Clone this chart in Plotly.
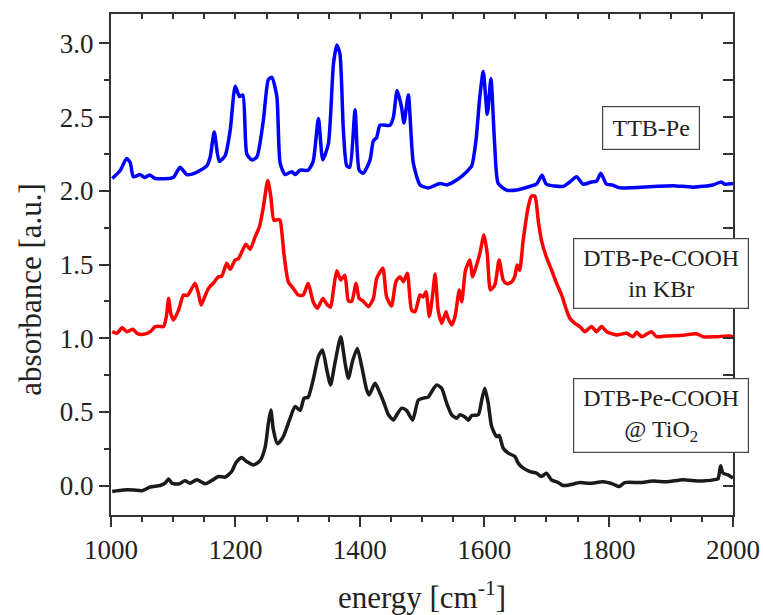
import plotly.graph_objects as go

# ---- data ----
ttb_x = [1002, 1015, 1025, 1031, 1036, 1047, 1054, 1062, 1071, 1100, 1111, 1122, 1135, 1154, 1159.5, 1166, 1174,
         1183.6, 1191.6, 1199.7, 1206.6, 1212, 1218.4, 1226.5, 1234.5, 1245, 1253, 1258.6, 1266.6, 1272, 1280,
         1290.7, 1296, 1304, 1317, 1325, 1333.5, 1340.5, 1349.5, 1357.6, 1363, 1368, 1373.6, 1379, 1384, 1392.4,
         1399, 1405.7, 1416.5, 1421.8, 1427, 1432.5, 1448.6, 1454, 1460, 1467, 1471, 1478, 1486, 1497, 1510,
         1529, 1540, 1558, 1572, 1580, 1586.7, 1593, 1598.5, 1605, 1610.8, 1617, 1622.5, 1636, 1652, 1673.5,
         1684, 1693, 1700, 1727, 1737.7, 1748.5, 1759, 1772.5, 1780.6, 1787.5, 1796.6, 1806, 1818, 1871.5,
         1903.6, 1935.7, 1967.8, 1981, 1986.7, 2000]
ttb_y = [2.084, 2.14, 2.22, 2.19, 2.095, 2.11, 2.09, 2.107, 2.084, 2.09, 2.16, 2.11, 2.12, 2.17, 2.23, 2.40, 2.20,
         2.24, 2.41, 2.71, 2.64, 2.65, 2.25, 2.21, 2.23, 2.48, 2.755, 2.77, 2.64, 2.186, 2.11,
         2.13, 2.11, 2.14, 2.14, 2.20, 2.49, 2.21, 2.32, 2.86, 2.99, 2.93, 2.41, 2.17, 2.16, 2.55,
         2.14, 2.12, 2.21, 2.34, 2.36, 2.445, 2.445, 2.50, 2.68, 2.57, 2.46, 2.65, 2.19, 2.04, 2.02,
         2.05, 2.04, 2.08, 2.13, 2.17, 2.34, 2.64, 2.81, 2.52, 2.76, 2.30, 2.05, 2.005, 2.005, 2.03,
         2.045, 2.105, 2.045, 2.03, 2.06, 2.095, 2.045, 2.06, 2.065, 2.12, 2.045, 2.04, 2.02, 2.03,
         2.035, 2.025, 2.04, 2.06, 2.045, 2.05]

kbr_x = [1002, 1009.6, 1017.7, 1025.7, 1035, 1041.8, 1052, 1063, 1071, 1079, 1084.5, 1089, 1092.6, 1096, 1100.5,
         1108.6, 1116.6, 1123, 1128.5, 1135.4, 1140.7, 1145, 1151.5, 1156.8, 1164.8, 1172.8, 1178, 1186, 1191.6,
         1199.6, 1205, 1210.4, 1217, 1223.7, 1231.7, 1238.7, 1245, 1252, 1257, 1262, 1269, 1271.8, 1278, 1285,
         1293, 1301, 1309, 1317, 1325, 1332, 1340.5, 1347, 1353, 1357.6, 1363, 1369.4, 1376, 1381.6, 1387, 1394,
         1399, 1405.7, 1413.8, 1421.8, 1427.2, 1437, 1443, 1451, 1458, 1464.7, 1470, 1476.4, 1483.4, 1489,
         1496.8, 1502, 1506.4, 1511.8, 1517, 1521, 1526, 1531.7, 1538.5, 1541, 1547.7, 1553, 1560, 1563.8, 1570,
         1577, 1581.4, 1588, 1593, 1599.6, 1605, 1610, 1617, 1624, 1630.6, 1636, 1644, 1649, 1653, 1657, 1662.7,
         1670.7, 1676, 1681.5, 1686.8, 1692, 1700, 1708.4, 1716.4, 1724.4, 1732.4, 1737.7, 1745.8, 1753.8, 1762,
         1772.5, 1780.6, 1788.6, 1797, 1812.7, 1828.8, 1839.5, 1845, 1853, 1869, 1877, 1893, 1919.7, 1941, 1952,
         1973, 1994.6, 2000]
kbr_y = [1.044, 1.033, 1.07, 1.044, 1.06, 1.033, 1.026, 1.044, 1.078, 1.08, 1.078, 1.146, 1.27, 1.17, 1.123,
         1.19, 1.293, 1.29, 1.327, 1.372, 1.30, 1.225, 1.29, 1.338, 1.376, 1.417, 1.42, 1.508, 1.467,
         1.53, 1.54, 1.587, 1.638, 1.603, 1.688, 1.756, 1.89, 2.07, 1.96, 1.80, 1.806, 1.80, 1.575, 1.383,
         1.338, 1.293, 1.293, 1.372, 1.247, 1.203, 1.27, 1.23, 1.21, 1.327, 1.458, 1.395, 1.428, 1.254, 1.25, 1.372,
         1.27, 1.25, 1.214, 1.27, 1.406, 1.474, 1.281, 1.218, 1.383, 1.417, 1.383, 1.44, 1.19, 1.18,
         1.293, 1.28, 1.315, 1.146, 1.29, 1.435, 1.19, 1.10, 1.18, 1.146, 1.09, 1.146, 1.327, 1.247, 1.462,
         1.53, 1.417, 1.50, 1.575, 1.70, 1.57, 1.327, 1.36, 1.53, 1.395, 1.37, 1.38, 1.417, 1.496, 1.46, 1.666,
         1.89, 1.964, 1.964, 1.80, 1.666, 1.55, 1.462, 1.372, 1.293, 1.19, 1.135, 1.10, 1.078, 1.044,
         1.08, 1.044, 1.08, 1.044, 1.022, 1.033, 1.01, 1.04, 1.01, 1.044, 1.01, 1.015, 1.02, 1.03, 1.01,
         1.01, 1.015, 1.01]

tio2_x = [1002, 1020, 1036, 1050, 1063, 1079, 1087, 1092.5, 1098, 1108.6, 1119, 1127, 1138, 1151.5, 1162, 1172.8,
          1183.6, 1194, 1201, 1210, 1218, 1229, 1240, 1248, 1253, 1257, 1261, 1267.6, 1277, 1287, 1296, 1304,
          1310.5, 1317, 1325, 1333.5, 1340, 1347, 1353, 1360, 1369.4, 1376, 1381.6, 1388.7, 1396, 1403, 1411,
          1415, 1424.5, 1432.5, 1439, 1446, 1454, 1459.4, 1467.4, 1475, 1485, 1494, 1502, 1510, 1515.6, 1523.6,
          1531.6, 1539.7, 1547.7, 1555.7, 1561, 1569, 1574.4, 1580, 1590.4, 1596, 1601, 1606.5, 1612, 1620, 1624,
          1630.6, 1638.6, 1649.4, 1654.7, 1662.7, 1673.5, 1684, 1692, 1700, 1708, 1719, 1727, 1737.7, 1753.8,
          1770, 1791, 1807, 1817, 1826, 1850, 1871.5, 1893, 1920, 1946.5, 1970.6, 1976, 1980, 1984, 1992, 2000]
tio2_y = [-0.04, -0.03, -0.03, -0.035, -0.01, 0.0, 0.016, 0.045, 0.016, 0.01, 0.032, 0.016, 0.039, 0.012, 0.034,
          0.061, 0.057, 0.095, 0.156, 0.19, 0.163, 0.14, 0.17, 0.264, 0.423, 0.513, 0.38, 0.283, 0.332, 0.445,
          0.536, 0.51, 0.593, 0.60, 0.717, 0.875, 0.92, 0.784, 0.683, 0.83, 1.01, 0.84, 0.728, 0.85, 0.93, 0.81,
          0.65, 0.615, 0.694, 0.626, 0.559, 0.48, 0.445, 0.48, 0.525, 0.51, 0.445, 0.58, 0.593, 0.60, 0.637,
          0.683, 0.66, 0.559, 0.48, 0.457, 0.48, 0.465, 0.443, 0.475, 0.48, 0.58, 0.66, 0.559, 0.40, 0.332, 0.34,
          0.253, 0.22, 0.197, 0.152, 0.118, 0.095, 0.084, 0.061, 0.084, 0.039, 0.02, 0.0, 0.005, 0.02,
          0.015, 0.025, 0.01, -0.007, 0.02, 0.02, 0.03, 0.025, 0.04, 0.03, 0.04, 0.045, 0.135, 0.084, 0.072, 0.05]

x_range = [1000, 2000]
y_range = [-0.2, 3.2]
x_ticks = [1000, 1200, 1400, 1600, 1800, 2000]
y_ticks = [0.0, 0.5, 1.0, 1.5, 2.0, 2.5, 3.0]
y_ticktext = ["0.0", "0.5", "1.0", "1.5", "2.0", "2.5", "3.0"]

FONT = "Liberation Serif, Tinos, DejaVu Serif Condensed, DejaVu Serif, serif"
TXT = "#222222"
AX = "#333333"

fig = go.Figure()
for xs, ys, col in [(ttb_x, ttb_y, "#0000FF"), (kbr_x, kbr_y, "#FF0000"), (tio2_x, tio2_y, "#1A1A1A")]:
    fig.add_trace(go.Scatter(x=xs, y=ys, mode="lines",
                             line=dict(color=col, width=3.5, shape="spline", smoothing=0.6),
                             showlegend=False, hoverinfo="skip"))
# invisible trace to activate mirror axes
fig.add_trace(go.Scatter(x=[x_range[0]], y=[y_range[0]], xaxis="x2", yaxis="y2", mode="markers",
                         marker=dict(opacity=0), showlegend=False, hoverinfo="skip"))

fig.update_layout(
    width=763, height=615,
    margin=dict(l=111, r=30, t=14, b=100),
    paper_bgcolor="white", plot_bgcolor="white",
    font=dict(family=FONT, color=TXT),
    xaxis=dict(range=x_range, tickvals=x_ticks, ticks="outside", ticklen=10, tickwidth=1.5, tickcolor=AX,
               minor=dict(dtick=50, tick0=1000, ticks="outside", ticklen=5, tickwidth=1.5, tickcolor=AX),
               showline=True, linecolor=AX, linewidth=2, showgrid=False, zeroline=False, automargin=False,
               tickfont=dict(size=27, family=FONT, color=TXT),
               title=dict(text="energy [cm<sup>-1</sup>]", font=dict(size=31, family=FONT, color=TXT), standoff=22)),
    yaxis=dict(range=y_range, tickvals=y_ticks, ticktext=y_ticktext, ticks="outside", ticklen=10, tickwidth=1.5,
               tickcolor=AX,
               minor=dict(dtick=0.25, tick0=0, ticks="outside", ticklen=5, tickwidth=1.5, tickcolor=AX),
               showline=True, linecolor=AX, linewidth=2, showgrid=False, zeroline=False, automargin=False,
               tickfont=dict(size=27, family=FONT, color=TXT)),
    xaxis2=dict(range=x_range, overlaying="x", side="top", anchor="y2", dtick=50, tick0=1000, ticks="inside",
                ticklen=5, tickwidth=1.5, tickcolor=AX, showticklabels=False, showline=True, linecolor=AX,
                linewidth=2, showgrid=False, zeroline=False, automargin=False),
    yaxis2=dict(range=y_range, overlaying="y", side="right", anchor="x2", dtick=0.25, tick0=0, ticks="inside",
                ticklen=10, tickwidth=1.5, tickcolor=AX, showticklabels=False, showline=True, linecolor=AX,
                linewidth=2, showgrid=False, zeroline=False, automargin=False),
)

# y-axis title as a rotated annotation (positioned like the reference)
fig.add_annotation(x=-0.130, y=0.45, xref="paper", yref="paper", text="absorbance [a.u.]",
                   textangle=-90, showarrow=False, xanchor="center", yanchor="middle",
                   font=dict(size=31, family=FONT, color=TXT))

boxes = [
    ("TTB-Pe", 1868.6, 2.428, 96, 42),
    ("DTB-Pe-COOH<br>in KBr", 1884.5, 1.442, 174, 69),
    ("DTB-Pe-COOH<br>@ TiO<sub>2</sub>", 1884.5, 0.4725, 174, 73),
]
for txt, bx, by, w, h in boxes:
    fig.add_annotation(x=bx, y=by, xref="x", yref="y", text=txt, showarrow=False,
                       width=w, height=h, borderpad=0, bordercolor="#444444", borderwidth=1.2,
                       bgcolor="white", font=dict(size=24, family=FONT, color=TXT), align="center",
                       valign="middle")

fig.write_html("out.html")
